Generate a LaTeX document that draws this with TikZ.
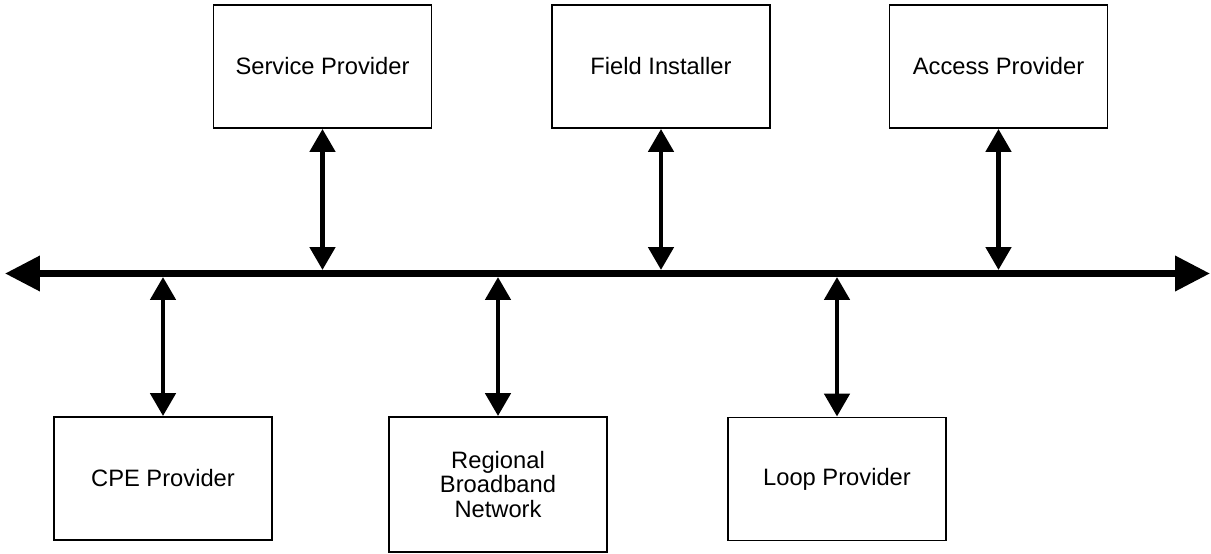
\documentclass[tikz,border=0pt]{standalone}
\usepackage{fontspec}
\setmainfont{Liberation Sans}
\usetikzlibrary{arrows.meta}

\begin{document}
\begin{tikzpicture}[
    x=0.02cm, y=-0.02cm,
    party/.style={rectangle, draw=black, line width=1.1pt, minimum width=4.36cm, minimum height=2.46cm, inner sep=0pt, align=center},
    bus/.style={line width=4pt, {Triangle[length=0.7cm, width=0.68cm]}-{Triangle[length=0.7cm, width=0.68cm]}},
    link/.style={line width=2.8pt, {Triangle[length=0.46cm, width=0.5cm]}-{Triangle[length=0.46cm, width=0.5cm]}},
    font=\fontsize{13.5pt}{13.7pt}\selectfont
    ]
    \useasboundingbox (0,0) rectangle (1211,554);

    % parties above the bus
    \node [party] (sp) at (322.5, 66.5) {Service Provider};
    \node [party] (fi) at (661, 66.5) {Field Installer};
    \node [party] (ap) at (998.5, 66.5) {Access Provider};

    % parties below the bus
    \node [party] (cpe) at (163, 478.5) {CPE Provider};
    \node [party, minimum height=2.7cm] (rbn) at (498, 484.5) {Regional\\Broadband\\Network};
    \node [party] (lp) at (837, 479) {Loop Provider};

    % the bus
    \coordinate (bus west) at (5, 273.5);
    \coordinate (bus east) at (1210, 273.5);
    \coordinate (bus top) at (0, 270);
    \coordinate (bus bottom) at (0, 277);
    \draw [bus] (bus west) -- (bus east);

    % links to the bus
    \foreach \n in {sp, fi, ap}
    \draw [link] (\n.south) -- (\n.south |- bus top);
    \foreach \n in {cpe, rbn, lp}
    \draw [link] (\n.north) -- (\n.north |- bus bottom);
\end{tikzpicture}
\end{document}
